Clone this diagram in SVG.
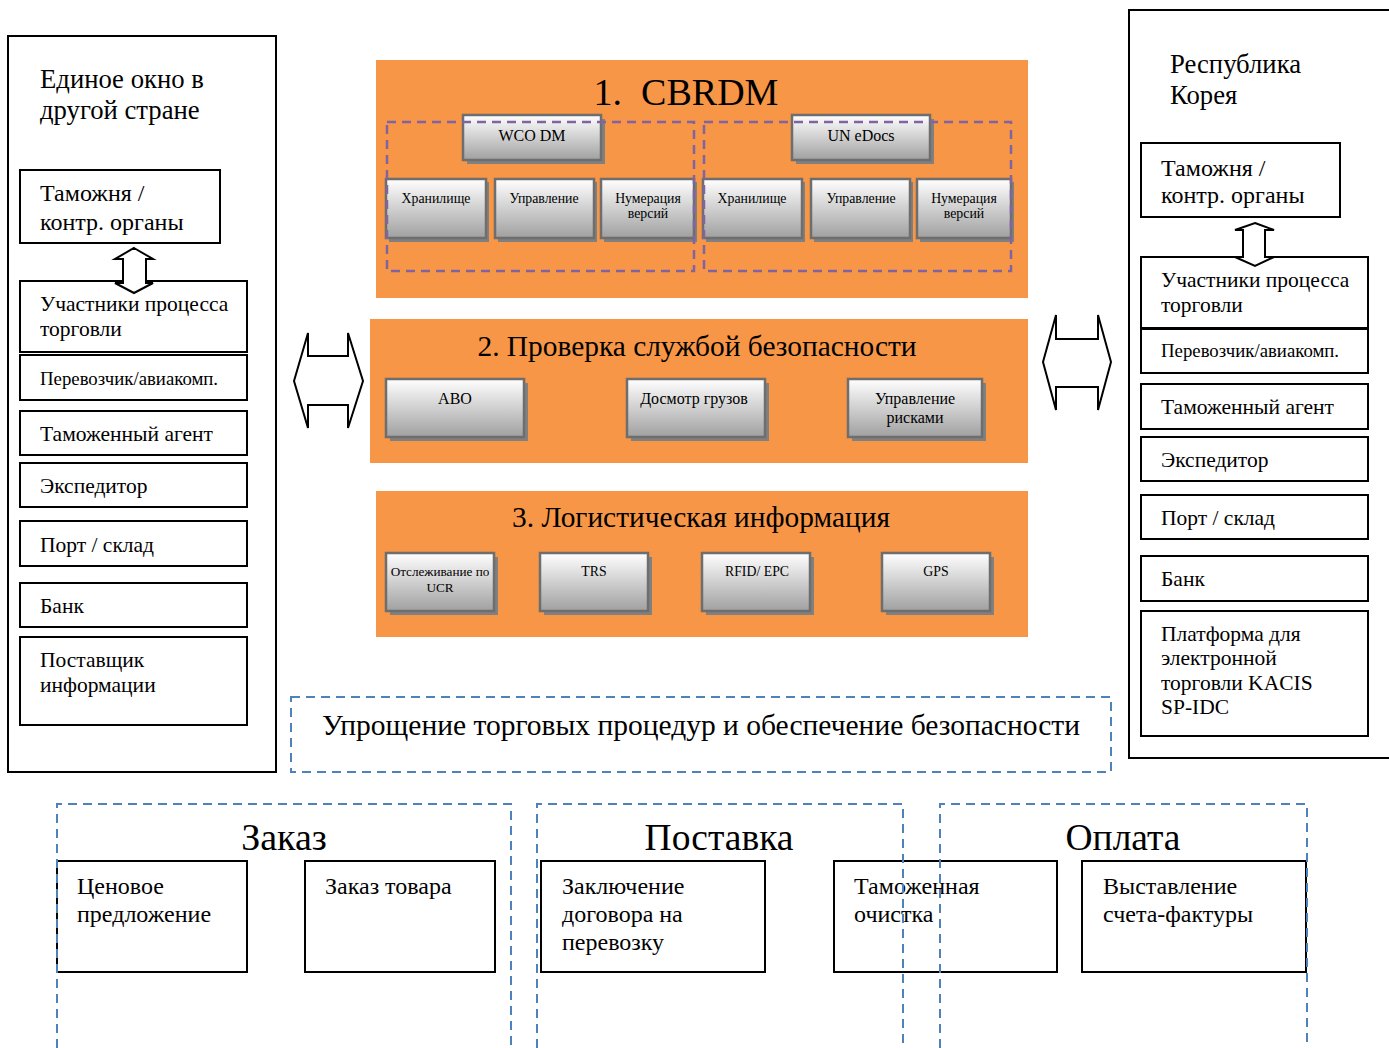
<svg xmlns="http://www.w3.org/2000/svg" width="1389" height="1048" viewBox="0 0 1389 1048">
<style>
text{font-family:"Liberation Serif","Times New Roman",serif;fill:#000}
.box{fill:#fff;stroke:#000;stroke-width:2}
.panel{fill:#F79646}
.gb{fill:url(#g);stroke:#6E6E6E;stroke-width:2.5}
.sh{fill:#808080}
.pd{fill:none;stroke:#8064A2;stroke-width:2.5;stroke-dasharray:9 6}
.bd{fill:none;stroke:#4F81BD;stroke-width:2;stroke-dasharray:9 6}
.arr{fill:#fff;stroke:#000;stroke-width:2;stroke-linejoin:miter}
.t24{font-size:24px}
.t21{font-size:21.5px}
.t19{font-size:18.8px}
.t16{font-size:16px}
.t14{font-size:13.8px}
</style>
<defs>
<linearGradient id="g" x1="0" y1="0" x2="0" y2="1">
<stop offset="0" stop-color="#FFFFFF"/>
<stop offset="1" stop-color="#A0A0A0"/>
</linearGradient>
</defs>
<rect width="1389" height="1048" fill="#fff"/>

<g id="left-window">
<rect x="8" y="36" width="268" height="736" class="box"/>
<text x="40" y="88" font-size="26.7">Единое окно в</text>
<text x="40" y="119" font-size="26.7">другой стране</text>
<g id="l-customs"><rect x="20" y="170" width="200" height="73" class="box"/><text x="40" y="201" class="t24">Таможня /</text><text x="40" y="230" class="t24">контр. органы</text></g>
<g id="l-traders"><rect x="20" y="281" width="227" height="71" class="box"/><text x="40" y="311" class="t21">Участники процесса</text><text x="40" y="336" class="t21">торговли</text></g>
<g id="l-carrier"><rect x="20" y="355" width="227" height="45" class="box"/><text x="40" y="385" class="t19">Перевозчик/авиакомп.</text></g>
<g id="l-agent"><rect x="20" y="411" width="227" height="44" class="box"/><text x="40" y="441" class="t21">Таможенный агент</text></g>
<g id="l-forwarder"><rect x="20" y="463" width="227" height="44" class="box"/><text x="40" y="493" class="t21">Экспедитор</text></g>
<g id="l-port"><rect x="20" y="521" width="227" height="45" class="box"/><text x="40" y="552" class="t21">Порт / склад</text></g>
<g id="l-bank"><rect x="20" y="583" width="227" height="44" class="box"/><text x="40" y="613" class="t21">Банк</text></g>
<g id="l-info"><rect x="20" y="637" width="227" height="88" class="box"/><text x="40" y="667" class="t21">Поставщик</text><text x="40" y="692" class="t21">информации</text></g>
</g>

<g id="right-window">
<rect x="1129" y="10" width="270" height="748" class="box"/>
<text x="1170" y="73" font-size="26.7">Республика</text>
<text x="1170" y="104" font-size="26.7">Корея</text>
<g id="r-customs"><rect x="1141" y="143" width="199" height="74" class="box"/><text x="1161" y="176" class="t24">Таможня /</text><text x="1161" y="203" class="t24">контр. органы</text></g>
<g id="r-traders"><rect x="1141" y="257" width="227" height="71" class="box"/><text x="1161" y="287" class="t21">Участники процесса</text><text x="1161" y="312" class="t21">торговли</text></g>
<g id="r-carrier"><rect x="1141" y="329" width="227" height="44" class="box"/><text x="1161" y="357" class="t19">Перевозчик/авиакомп.</text></g>
<g id="r-agent"><rect x="1141" y="384" width="227" height="45" class="box"/><text x="1161" y="414" class="t21">Таможенный агент</text></g>
<g id="r-forwarder"><rect x="1141" y="437" width="227" height="44" class="box"/><text x="1161" y="467" class="t21">Экспедитор</text></g>
<g id="r-port"><rect x="1141" y="495" width="227" height="44" class="box"/><text x="1161" y="525" class="t21">Порт / склад</text></g>
<g id="r-bank"><rect x="1141" y="556" width="227" height="45" class="box"/><text x="1161" y="586" class="t21">Банк</text></g>
<g id="r-platform"><rect x="1141" y="611" width="227" height="125" class="box"/><text x="1161" y="641" class="t21">Платформа для</text><text x="1161" y="665" class="t21">электронной</text><text x="1161" y="690" class="t21">торговли KACIS</text><text x="1161" y="714" class="t21">SP-IDC</text></g>
</g>

<g id="panel-cbrdm">
<rect x="376" y="60" width="652" height="238" class="panel"/>
<text x="686" y="105" font-size="38" text-anchor="middle">1.&#160; CBRDM</text>
<g id="wco"><rect x="467" y="119" width="138" height="45" class="sh"/><rect x="463" y="115" width="138" height="45" class="gb"/><text x="532" y="141" class="t16" text-anchor="middle">WCO DM</text></g>
<g id="unedocs"><rect x="796" y="119" width="138" height="45" class="sh"/><rect x="792" y="115" width="138" height="45" class="gb"/><text x="861" y="141" class="t16" text-anchor="middle">UN eDocs</text></g>
<g id="w-store"><rect x="389" y="182" width="100" height="60" class="sh"/><rect x="386" y="179" width="100" height="59" class="gb"/><text x="436" y="203" class="t14" text-anchor="middle">Хранилище</text></g>
<g id="w-manage"><rect x="498" y="182" width="99" height="60" class="sh"/><rect x="495" y="179" width="99" height="59" class="gb"/><text x="544" y="203" class="t14" text-anchor="middle">Управление</text></g>
<g id="w-version"><rect x="604" y="182" width="93" height="60" class="sh"/><rect x="601" y="179" width="93" height="59" class="gb"/><text x="648" y="203" class="t14" text-anchor="middle">Нумерация</text><text x="648" y="218" class="t14" text-anchor="middle">версий</text></g>
<g id="u-store"><rect x="706" y="182" width="99" height="60" class="sh"/><rect x="703" y="179" width="99" height="59" class="gb"/><text x="752" y="203" class="t14" text-anchor="middle">Хранилище</text></g>
<g id="u-manage"><rect x="814" y="182" width="99" height="60" class="sh"/><rect x="811" y="179" width="99" height="59" class="gb"/><text x="861" y="203" class="t14" text-anchor="middle">Управление</text></g>
<g id="u-version"><rect x="920" y="182" width="94" height="60" class="sh"/><rect x="917" y="179" width="94" height="59" class="gb"/><text x="964" y="203" class="t14" text-anchor="middle">Нумерация</text><text x="964" y="218" class="t14" text-anchor="middle">версий</text></g>
<rect x="387" y="122" width="307" height="149" class="pd"/>
<rect x="704" y="122" width="307" height="149" class="pd"/>
</g>

<g id="panel-security">
<rect x="370" y="319" width="658" height="144" class="panel"/>
<text x="697" y="356" font-size="29.4" text-anchor="middle">2. Проверка службой безопасности</text>
<g id="avo"><rect x="390" y="383" width="138" height="58" class="sh"/><rect x="386" y="379" width="138" height="58" class="gb"/><text x="455" y="404" class="t16" text-anchor="middle">АВО</text></g>
<g id="inspect"><rect x="631" y="383" width="138" height="58" class="sh"/><rect x="627" y="379" width="138" height="58" class="gb"/><text x="694" y="404" class="t16" text-anchor="middle">Досмотр грузов</text></g>
<g id="risk"><rect x="852" y="383" width="134" height="58" class="sh"/><rect x="848" y="379" width="134" height="58" class="gb"/><text x="915" y="404" class="t16" text-anchor="middle">Управление</text><text x="915" y="423" class="t16" text-anchor="middle">рисками</text></g>
</g>

<g id="panel-logistics">
<rect x="376" y="491" width="652" height="146" class="panel"/>
<text x="701" y="527" font-size="29.4" text-anchor="middle">3. Логистическая информация</text>
<g id="ucr"><rect x="390" y="557" width="108" height="58" class="sh"/><rect x="386" y="553" width="108" height="58" class="gb"/><text x="440" y="576" font-size="13.2" text-anchor="middle">Отслеживание по</text><text x="440" y="592" font-size="13.2" text-anchor="middle">UCR</text></g>
<g id="trs"><rect x="544" y="557" width="108" height="58" class="sh"/><rect x="540" y="553" width="108" height="58" class="gb"/><text x="594" y="576" class="t14" text-anchor="middle">TRS</text></g>
<g id="rfid"><rect x="706" y="557" width="108" height="58" class="sh"/><rect x="702" y="553" width="108" height="58" class="gb"/><text x="757" y="576" class="t14" text-anchor="middle">RFID/ EPC</text></g>
<g id="gps"><rect x="886" y="557" width="108" height="58" class="sh"/><rect x="882" y="553" width="108" height="58" class="gb"/><text x="936" y="576" class="t14" text-anchor="middle">GPS</text></g>
</g>

<g id="simplify">
<rect x="291" y="697" width="820" height="75" class="bd"/>
<text x="701" y="735" font-size="29.5" text-anchor="middle">Упрощение торговых процедур и обеспечение безопасности</text>
</g>

<g id="bottom-boxes">
<g id="price"><rect x="57" y="861" width="190" height="111" class="box"/><text x="77" y="894" class="t24">Ценовое</text><text x="77" y="922" class="t24">предложение</text></g>
<g id="order"><rect x="305" y="861" width="190" height="111" class="box"/><text x="325" y="894" class="t24">Заказ товара</text></g>
<g id="contract"><rect x="541" y="861" width="224" height="111" class="box"/><text x="562" y="894" class="t24">Заключение</text><text x="562" y="922" class="t24">договора на</text><text x="562" y="950" class="t24">перевозку</text></g>
<g id="clearance"><rect x="834" y="861" width="223" height="111" class="box"/><text x="854" y="894" class="t24">Таможенная</text><text x="854" y="922" class="t24">очистка</text></g>
<g id="invoice"><rect x="1082" y="861" width="224" height="111" class="box"/><text x="1103" y="894" class="t24">Выставление</text><text x="1103" y="922" class="t24">счета-фактуры</text></g>
</g>

<g id="stages">
<g id="stage-order"><path d="M57 1048 V804 H511 V1048" class="bd"/><text x="284" y="850" font-size="38" text-anchor="middle">Заказ</text></g>
<g id="stage-delivery"><path d="M537 1048 V804 H903 V1048" class="bd"/><text x="719" y="850" font-size="37.5" text-anchor="middle">Поставка</text></g>
<g id="stage-payment"><path d="M940 1048 V804 H1307 V1048" class="bd"/><text x="1123" y="850" font-size="37.5" text-anchor="middle">Оплата</text></g>
</g>

<g id="connectors">
<path class="arr" d="M294 381 L308 333 V356 H348 V333 L363 381 L348 428 V405 H308 V428 Z"/>
<path class="arr" d="M1043 362 L1056 315 V339 H1098 V315 L1111 362 L1098 410 V387 H1056 V410 Z"/>
<path class="arr" d="M134 248 L153 259 H146 V283 H153 L134 293 L115 283 H123 V259 H115 Z"/>
<path class="arr" d="M1255 223 L1274 230 H1265 V257 H1274 L1255 266 L1235 257 H1243 V230 H1235 Z"/>
</g>
</svg>
